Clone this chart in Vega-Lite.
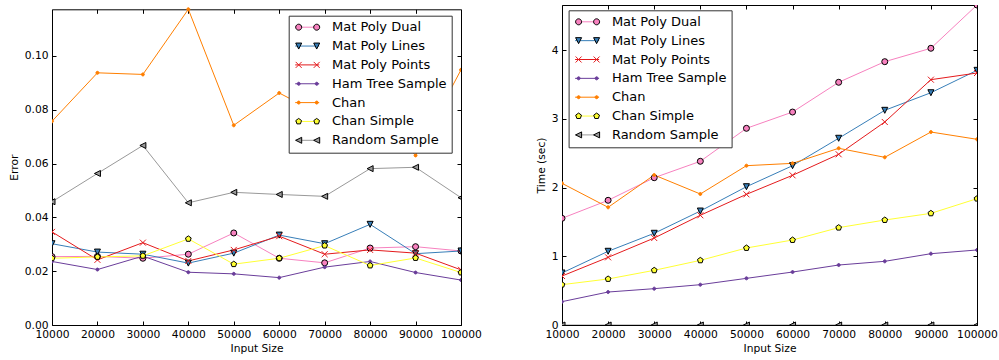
{
  "$schema": "https://vega.github.io/schema/vega-lite/v6.json",
  "padding": {"left": 8, "top": 4, "right": 0, "bottom": 0},
  "spacing": 52,
  "datasets": {
    "error": [
      {"series": "Mat Poly Dual", "size": 10000, "value": 0.0254},
      {"series": "Mat Poly Dual", "size": 20000, "value": 0.0255},
      {"series": "Mat Poly Dual", "size": 30000, "value": 0.0248},
      {"series": "Mat Poly Dual", "size": 40000, "value": 0.0263},
      {"series": "Mat Poly Dual", "size": 50000, "value": 0.0342},
      {"series": "Mat Poly Dual", "size": 60000, "value": 0.0248},
      {"series": "Mat Poly Dual", "size": 70000, "value": 0.0231},
      {"series": "Mat Poly Dual", "size": 80000, "value": 0.0286},
      {"series": "Mat Poly Dual", "size": 90000, "value": 0.0291},
      {"series": "Mat Poly Dual", "size": 100000, "value": 0.0275},
      {"series": "Mat Poly Lines", "size": 10000, "value": 0.0302},
      {"series": "Mat Poly Lines", "size": 20000, "value": 0.0271},
      {"series": "Mat Poly Lines", "size": 30000, "value": 0.0263},
      {"series": "Mat Poly Lines", "size": 40000, "value": 0.0230},
      {"series": "Mat Poly Lines", "size": 50000, "value": 0.0267},
      {"series": "Mat Poly Lines", "size": 60000, "value": 0.0334},
      {"series": "Mat Poly Lines", "size": 70000, "value": 0.0302},
      {"series": "Mat Poly Lines", "size": 80000, "value": 0.0374},
      {"series": "Mat Poly Lines", "size": 90000, "value": 0.0265},
      {"series": "Mat Poly Lines", "size": 100000, "value": 0.0275},
      {"series": "Mat Poly Points", "size": 10000, "value": 0.0346},
      {"series": "Mat Poly Points", "size": 20000, "value": 0.0242},
      {"series": "Mat Poly Points", "size": 30000, "value": 0.0306},
      {"series": "Mat Poly Points", "size": 40000, "value": 0.0238},
      {"series": "Mat Poly Points", "size": 50000, "value": 0.0279},
      {"series": "Mat Poly Points", "size": 60000, "value": 0.0330},
      {"series": "Mat Poly Points", "size": 70000, "value": 0.0263},
      {"series": "Mat Poly Points", "size": 80000, "value": 0.0279},
      {"series": "Mat Poly Points", "size": 90000, "value": 0.0267},
      {"series": "Mat Poly Points", "size": 100000, "value": 0.0205},
      {"series": "Ham Tree Sample", "size": 10000, "value": 0.0236},
      {"series": "Ham Tree Sample", "size": 20000, "value": 0.0206},
      {"series": "Ham Tree Sample", "size": 30000, "value": 0.0256},
      {"series": "Ham Tree Sample", "size": 40000, "value": 0.0196},
      {"series": "Ham Tree Sample", "size": 50000, "value": 0.0190},
      {"series": "Ham Tree Sample", "size": 60000, "value": 0.0176},
      {"series": "Ham Tree Sample", "size": 70000, "value": 0.0215},
      {"series": "Ham Tree Sample", "size": 80000, "value": 0.0236},
      {"series": "Ham Tree Sample", "size": 90000, "value": 0.0195},
      {"series": "Ham Tree Sample", "size": 100000, "value": 0.0167},
      {"series": "Chan", "size": 10000, "value": 0.0757},
      {"series": "Chan", "size": 20000, "value": 0.0937},
      {"series": "Chan", "size": 30000, "value": 0.0931},
      {"series": "Chan", "size": 40000, "value": 0.1173},
      {"series": "Chan", "size": 50000, "value": 0.0742},
      {"series": "Chan", "size": 60000, "value": 0.0862},
      {"series": "Chan", "size": 70000, "value": 0.0774},
      {"series": "Chan", "size": 80000, "value": 0.0812},
      {"series": "Chan", "size": 90000, "value": 0.0630},
      {"series": "Chan", "size": 100000, "value": 0.0948},
      {"series": "Chan Simple", "size": 10000, "value": 0.0248},
      {"series": "Chan Simple", "size": 20000, "value": 0.0253},
      {"series": "Chan Simple", "size": 30000, "value": 0.0257},
      {"series": "Chan Simple", "size": 40000, "value": 0.0320},
      {"series": "Chan Simple", "size": 50000, "value": 0.0226},
      {"series": "Chan Simple", "size": 60000, "value": 0.0248},
      {"series": "Chan Simple", "size": 70000, "value": 0.0295},
      {"series": "Chan Simple", "size": 80000, "value": 0.0221},
      {"series": "Chan Simple", "size": 90000, "value": 0.0249},
      {"series": "Chan Simple", "size": 100000, "value": 0.0195},
      {"series": "Random Sample", "size": 10000, "value": 0.0458},
      {"series": "Random Sample", "size": 20000, "value": 0.0563},
      {"series": "Random Sample", "size": 30000, "value": 0.0667},
      {"series": "Random Sample", "size": 40000, "value": 0.0454},
      {"series": "Random Sample", "size": 50000, "value": 0.0493},
      {"series": "Random Sample", "size": 60000, "value": 0.0485},
      {"series": "Random Sample", "size": 70000, "value": 0.0478},
      {"series": "Random Sample", "size": 80000, "value": 0.0581},
      {"series": "Random Sample", "size": 90000, "value": 0.0586},
      {"series": "Random Sample", "size": 100000, "value": 0.0473}
    ],
    "time": [
      {"series": "Mat Poly Dual", "size": 10000, "value": 1.553},
      {"series": "Mat Poly Dual", "size": 20000, "value": 1.815},
      {"series": "Mat Poly Dual", "size": 30000, "value": 2.144},
      {"series": "Mat Poly Dual", "size": 40000, "value": 2.383},
      {"series": "Mat Poly Dual", "size": 50000, "value": 2.863},
      {"series": "Mat Poly Dual", "size": 60000, "value": 3.100},
      {"series": "Mat Poly Dual", "size": 70000, "value": 3.533},
      {"series": "Mat Poly Dual", "size": 80000, "value": 3.833},
      {"series": "Mat Poly Dual", "size": 90000, "value": 4.028},
      {"series": "Mat Poly Dual", "size": 100000, "value": 4.658},
      {"series": "Mat Poly Lines", "size": 10000, "value": 0.757},
      {"series": "Mat Poly Lines", "size": 20000, "value": 1.073},
      {"series": "Mat Poly Lines", "size": 30000, "value": 1.335},
      {"series": "Mat Poly Lines", "size": 40000, "value": 1.659},
      {"series": "Mat Poly Lines", "size": 50000, "value": 2.013},
      {"series": "Mat Poly Lines", "size": 60000, "value": 2.319},
      {"series": "Mat Poly Lines", "size": 70000, "value": 2.718},
      {"series": "Mat Poly Lines", "size": 80000, "value": 3.125},
      {"series": "Mat Poly Lines", "size": 90000, "value": 3.381},
      {"series": "Mat Poly Lines", "size": 100000, "value": 3.707},
      {"series": "Mat Poly Points", "size": 10000, "value": 0.713},
      {"series": "Mat Poly Points", "size": 20000, "value": 0.985},
      {"series": "Mat Poly Points", "size": 30000, "value": 1.266},
      {"series": "Mat Poly Points", "size": 40000, "value": 1.597},
      {"series": "Mat Poly Points", "size": 50000, "value": 1.902},
      {"series": "Mat Poly Points", "size": 60000, "value": 2.179},
      {"series": "Mat Poly Points", "size": 70000, "value": 2.485},
      {"series": "Mat Poly Points", "size": 80000, "value": 2.955},
      {"series": "Mat Poly Points", "size": 90000, "value": 3.571},
      {"series": "Mat Poly Points", "size": 100000, "value": 3.668},
      {"series": "Ham Tree Sample", "size": 10000, "value": 0.340},
      {"series": "Ham Tree Sample", "size": 20000, "value": 0.480},
      {"series": "Ham Tree Sample", "size": 30000, "value": 0.529},
      {"series": "Ham Tree Sample", "size": 40000, "value": 0.587},
      {"series": "Ham Tree Sample", "size": 50000, "value": 0.679},
      {"series": "Ham Tree Sample", "size": 60000, "value": 0.771},
      {"series": "Ham Tree Sample", "size": 70000, "value": 0.873},
      {"series": "Ham Tree Sample", "size": 80000, "value": 0.927},
      {"series": "Ham Tree Sample", "size": 90000, "value": 1.038},
      {"series": "Ham Tree Sample", "size": 100000, "value": 1.092},
      {"series": "Chan", "size": 10000, "value": 2.062},
      {"series": "Chan", "size": 20000, "value": 1.713},
      {"series": "Chan", "size": 30000, "value": 2.183},
      {"series": "Chan", "size": 40000, "value": 1.907},
      {"series": "Chan", "size": 50000, "value": 2.319},
      {"series": "Chan", "size": 60000, "value": 2.353},
      {"series": "Chan", "size": 70000, "value": 2.572},
      {"series": "Chan", "size": 80000, "value": 2.441},
      {"series": "Chan", "size": 90000, "value": 2.809},
      {"series": "Chan", "size": 100000, "value": 2.703},
      {"series": "Chan Simple", "size": 10000, "value": 0.587},
      {"series": "Chan Simple", "size": 20000, "value": 0.670},
      {"series": "Chan Simple", "size": 30000, "value": 0.796},
      {"series": "Chan Simple", "size": 40000, "value": 0.941},
      {"series": "Chan Simple", "size": 50000, "value": 1.121},
      {"series": "Chan Simple", "size": 60000, "value": 1.237},
      {"series": "Chan Simple", "size": 70000, "value": 1.417},
      {"series": "Chan Simple", "size": 80000, "value": 1.528},
      {"series": "Chan Simple", "size": 90000, "value": 1.625},
      {"series": "Chan Simple", "size": 100000, "value": 1.839},
      {"series": "Random Sample", "size": 10000, "value": 0},
      {"series": "Random Sample", "size": 20000, "value": 0},
      {"series": "Random Sample", "size": 30000, "value": 0},
      {"series": "Random Sample", "size": 40000, "value": 0},
      {"series": "Random Sample", "size": 50000, "value": 0},
      {"series": "Random Sample", "size": 60000, "value": 0},
      {"series": "Random Sample", "size": 70000, "value": 0},
      {"series": "Random Sample", "size": 80000, "value": 0},
      {"series": "Random Sample", "size": 90000, "value": 0},
      {"series": "Random Sample", "size": 100000, "value": 0}
    ]
  },
  "resolve": {
    "scale": {"color": "independent", "fill": "independent", "stroke": "independent", "shape": "independent"},
    "legend": {"color": "independent", "fill": "independent", "stroke": "independent", "shape": "independent"}
  },
  "hconcat": [
    {
      "width": 409,
      "height": 320,
      "view": {"stroke": null},
      "data": {"name": "error"},
      "resolve": {"scale": {"shape": "independent", "fill": "independent", "stroke": "independent"}},
      "layer": [
        {
          "mark": {"type": "line", "strokeWidth": 1, "clip": true},
          "encoding": {
            "x": {"field": "size", "type": "quantitative", "scale": {"domain": [10000, 100000], "nice": false, "zero": false},
              "axis": {"orient": "bottom", "domain": true, "domainColor": "black", "domainWidth": 1, "values": [10000, 20000, 30000, 40000, 50000, 60000, 70000, 80000, 90000, 100000], "format": "d", "title": "Input Size"}},
            "y": {"field": "value", "type": "quantitative", "scale": {"domain": [0, 0.1173], "range": [320, 4.3], "nice": false, "zero": false},
              "axis": {"orient": "left", "domain": true, "domainColor": "black", "domainWidth": 1, "values": [0, 0.02, 0.04, 0.06, 0.08, 0.1], "format": ".2f", "title": "Error"}},
            "color": {"field": "series", "type": "nominal",
              "scale": {"domain": ["Mat Poly Dual", "Mat Poly Lines", "Mat Poly Points", "Ham Tree Sample", "Chan", "Chan Simple", "Random Sample"],
                "range": ["#f781bf", "#377eb8", "#e41a1c", "#6a3d9a", "#ff7f00", "#ffff33", "#999999"]},
              "legend": {"orient": "none", "legendX": 236.7, "legendY": 10.7, "title": null, "zindex": 1,
                "symbolType": "M-0.833,0L3.167,0", "fillColor": "white", "strokeColor": "#333333"}}
          }
        },
        {
          "mark": {"type": "point", "size": 36, "opacity": 1, "strokeWidth": 1, "filled": true, "clip": true},
          "encoding": {
            "x": {"field": "size", "type": "quantitative",
              "axis": {"orient": "top", "offset": -4.3, "domain": true, "domainColor": "black", "domainWidth": 1, "values": [10000, 20000, 30000, 40000, 50000, 60000, 70000, 80000, 90000, 100000], "labels": false, "title": null}},
            "y": {"field": "value", "type": "quantitative",
              "axis": {"orient": "right", "domain": true, "domainColor": "black", "domainWidth": 1, "values": [0, 0.02, 0.04, 0.06, 0.08, 0.1], "labels": false, "title": null}},
            "shape": {"field": "series", "type": "nominal",
              "scale": {"domain": ["Mat Poly Dual", "Mat Poly Lines", "Mat Poly Points", "Ham Tree Sample", "Chan", "Chan Simple", "Random Sample"],
                "range": ["circle", "M0,1L-1,-1L1,-1Z", "M-1,-1L1,1M-1,1L1,-1", "M-0.5,0A0.5,0.5 0 1,0 0.5,0A0.5,0.5 0 1,0 -0.5,0Z", "M-0.5,0A0.5,0.5 0 1,0 0.5,0A0.5,0.5 0 1,0 -0.5,0Z", "M0,-1L0.951,-0.309L0.588,0.809L-0.588,0.809L-0.951,-0.309Z", "M-1,0L1,-1L1,1Z"]},
              "legend": null},
            "fill": {"field": "series", "type": "nominal",
              "scale": {"domain": ["Mat Poly Dual", "Mat Poly Lines", "Mat Poly Points", "Ham Tree Sample", "Chan", "Chan Simple", "Random Sample"],
                "range": ["#f781bf", "#377eb8", "transparent", "#6a3d9a", "#ff7f00", "#ffff33", "#999999"]},
              "legend": null},
            "stroke": {"field": "series", "type": "nominal",
              "scale": {"domain": ["Mat Poly Dual", "Mat Poly Lines", "Mat Poly Points", "Ham Tree Sample", "Chan", "Chan Simple", "Random Sample"],
                "range": ["#000000", "#000000", "#e41a1c", "#6a3d9a", "#ff7f00", "#000000", "#000000"]},
              "legend": null}
          }
        },
        {
          "transform": [{"filter": "false"}],
          "mark": {"type": "point", "size": 36, "opacity": 1, "strokeWidth": 1, "filled": true},
          "encoding": {
            "x": {"field": "size", "type": "quantitative", "axis": null},
            "y": {"field": "value", "type": "quantitative", "axis": null},
            "shape": {"field": "series", "type": "nominal",
              "scale": {"domain": ["Mat Poly Dual", "Mat Poly Lines", "Mat Poly Points", "Ham Tree Sample", "Chan", "Chan Simple", "Random Sample"],
                "range": ["M-0.75,0A0.5,0.5 0 1,0 0.25,0A0.5,0.5 0 1,0 -0.75,0ZM2.25,0A0.5,0.5 0 1,0 3.25,0A0.5,0.5 0 1,0 2.25,0Z", "M-0.25,0.5L-0.75,-0.5L0.25,-0.5ZM2.75,0.5L2.25,-0.5L3.25,-0.5Z", "M-0.75,-0.5L0.25,0.5M-0.75,0.5L0.25,-0.5M2.25,-0.5L3.25,0.5M2.25,0.5L3.25,-0.5", "M-0.5,0A0.25,0.25 0 1,0 0,0A0.25,0.25 0 1,0 -0.5,0ZM2.5,0A0.25,0.25 0 1,0 3,0A0.25,0.25 0 1,0 2.5,0Z", "M-0.5,0A0.25,0.25 0 1,0 0,0A0.25,0.25 0 1,0 -0.5,0ZM2.5,0A0.25,0.25 0 1,0 3,0A0.25,0.25 0 1,0 2.5,0Z", "M-0.25,-0.5L0.226,-0.155L0.044,0.405L-0.544,0.405L-0.726,-0.155ZM2.75,-0.5L3.226,-0.155L3.044,0.405L2.456,0.405L2.274,-0.155Z", "M-0.75,0L0.25,-0.5L0.25,0.5ZM2.25,0L3.25,-0.5L3.25,0.5Z"]},
              "legend": {"orient": "none", "legendX": 236.7, "legendY": 10.7, "title": null, "zindex": 2, "labelOpacity": 0, "fillColor": null, "strokeColor": null}},
            "fill": {"field": "series", "type": "nominal",
              "scale": {"domain": ["Mat Poly Dual", "Mat Poly Lines", "Mat Poly Points", "Ham Tree Sample", "Chan", "Chan Simple", "Random Sample"],
                "range": ["#f781bf", "#377eb8", "transparent", "#6a3d9a", "#ff7f00", "#ffff33", "#999999"]},
              "legend": {"orient": "none", "legendX": 236.7, "legendY": 10.7, "title": null, "zindex": 2, "labelOpacity": 0, "fillColor": null, "strokeColor": null}},
            "stroke": {"field": "series", "type": "nominal",
              "scale": {"domain": ["Mat Poly Dual", "Mat Poly Lines", "Mat Poly Points", "Ham Tree Sample", "Chan", "Chan Simple", "Random Sample"],
                "range": ["#000000", "#000000", "#e41a1c", "#6a3d9a", "#ff7f00", "#000000", "#000000"]},
              "legend": {"orient": "none", "legendX": 236.7, "legendY": 10.7, "title": null, "zindex": 2, "labelOpacity": 0, "fillColor": null, "strokeColor": null}}
          }
        }
      ]
    },
    {
      "width": 415,
      "height": 320,
      "data": {"name": "time"},
      "resolve": {"scale": {"shape": "independent", "fill": "independent", "stroke": "independent"}},
      "layer": [
        {
          "mark": {"type": "line", "strokeWidth": 1, "clip": true},
          "encoding": {
            "x": {"field": "size", "type": "quantitative", "scale": {"domain": [10000, 100000], "nice": false, "zero": false},
              "axis": {"orient": "bottom", "values": [10000, 20000, 30000, 40000, 50000, 60000, 70000, 80000, 90000, 100000], "format": "d", "title": "Input Size"}},
            "y": {"field": "value", "type": "quantitative", "scale": {"domain": [0, 4.658], "nice": false, "zero": false},
              "axis": {"orient": "left", "values": [0, 1, 2, 3, 4], "format": "d", "title": "Time (sec)"}},
            "color": {"field": "series", "type": "nominal",
              "scale": {"domain": ["Mat Poly Dual", "Mat Poly Lines", "Mat Poly Points", "Ham Tree Sample", "Chan", "Chan Simple", "Random Sample"],
                "range": ["#f781bf", "#377eb8", "#e41a1c", "#6a3d9a", "#ff7f00", "#ffff33", "#999999"]},
              "legend": {"orient": "none", "legendX": 6.6, "legendY": 5.3, "title": null, "zindex": 1,
                "symbolType": "M-0.833,0L3.167,0", "fillColor": "white", "strokeColor": "#333333"}}
          }
        },
        {
          "mark": {"type": "point", "size": 36, "opacity": 1, "strokeWidth": 1, "filled": true, "clip": true},
          "encoding": {
            "x": {"field": "size", "type": "quantitative",
              "axis": {"orient": "top", "values": [10000, 20000, 30000, 40000, 50000, 60000, 70000, 80000, 90000, 100000], "labels": false, "title": null}},
            "y": {"field": "value", "type": "quantitative",
              "axis": {"orient": "right", "values": [0, 1, 2, 3, 4], "labels": false, "title": null}},
            "shape": {"field": "series", "type": "nominal",
              "scale": {"domain": ["Mat Poly Dual", "Mat Poly Lines", "Mat Poly Points", "Ham Tree Sample", "Chan", "Chan Simple", "Random Sample"],
                "range": ["circle", "M0,1L-1,-1L1,-1Z", "M-1,-1L1,1M-1,1L1,-1", "M-0.5,0A0.5,0.5 0 1,0 0.5,0A0.5,0.5 0 1,0 -0.5,0Z", "M-0.5,0A0.5,0.5 0 1,0 0.5,0A0.5,0.5 0 1,0 -0.5,0Z", "M0,-1L0.951,-0.309L0.588,0.809L-0.588,0.809L-0.951,-0.309Z", "M-1,0L1,-1L1,1Z"]},
              "legend": null},
            "fill": {"field": "series", "type": "nominal",
              "scale": {"domain": ["Mat Poly Dual", "Mat Poly Lines", "Mat Poly Points", "Ham Tree Sample", "Chan", "Chan Simple", "Random Sample"],
                "range": ["#f781bf", "#377eb8", "transparent", "#6a3d9a", "#ff7f00", "#ffff33", "#999999"]},
              "legend": null},
            "stroke": {"field": "series", "type": "nominal",
              "scale": {"domain": ["Mat Poly Dual", "Mat Poly Lines", "Mat Poly Points", "Ham Tree Sample", "Chan", "Chan Simple", "Random Sample"],
                "range": ["#000000", "#000000", "#e41a1c", "#6a3d9a", "#ff7f00", "#000000", "#000000"]},
              "legend": null}
          }
        },
        {
          "transform": [{"filter": "false"}],
          "mark": {"type": "point", "size": 36, "opacity": 1, "strokeWidth": 1, "filled": true},
          "encoding": {
            "x": {"field": "size", "type": "quantitative", "axis": null},
            "y": {"field": "value", "type": "quantitative", "axis": null},
            "shape": {"field": "series", "type": "nominal",
              "scale": {"domain": ["Mat Poly Dual", "Mat Poly Lines", "Mat Poly Points", "Ham Tree Sample", "Chan", "Chan Simple", "Random Sample"],
                "range": ["M-0.75,0A0.5,0.5 0 1,0 0.25,0A0.5,0.5 0 1,0 -0.75,0ZM2.25,0A0.5,0.5 0 1,0 3.25,0A0.5,0.5 0 1,0 2.25,0Z", "M-0.25,0.5L-0.75,-0.5L0.25,-0.5ZM2.75,0.5L2.25,-0.5L3.25,-0.5Z", "M-0.75,-0.5L0.25,0.5M-0.75,0.5L0.25,-0.5M2.25,-0.5L3.25,0.5M2.25,0.5L3.25,-0.5", "M-0.5,0A0.25,0.25 0 1,0 0,0A0.25,0.25 0 1,0 -0.5,0ZM2.5,0A0.25,0.25 0 1,0 3,0A0.25,0.25 0 1,0 2.5,0Z", "M-0.5,0A0.25,0.25 0 1,0 0,0A0.25,0.25 0 1,0 -0.5,0ZM2.5,0A0.25,0.25 0 1,0 3,0A0.25,0.25 0 1,0 2.5,0Z", "M-0.25,-0.5L0.226,-0.155L0.044,0.405L-0.544,0.405L-0.726,-0.155ZM2.75,-0.5L3.226,-0.155L3.044,0.405L2.456,0.405L2.274,-0.155Z", "M-0.75,0L0.25,-0.5L0.25,0.5ZM2.25,0L3.25,-0.5L3.25,0.5Z"]},
              "legend": {"orient": "none", "legendX": 6.6, "legendY": 5.3, "title": null, "zindex": 2, "labelOpacity": 0, "fillColor": null, "strokeColor": null}},
            "fill": {"field": "series", "type": "nominal",
              "scale": {"domain": ["Mat Poly Dual", "Mat Poly Lines", "Mat Poly Points", "Ham Tree Sample", "Chan", "Chan Simple", "Random Sample"],
                "range": ["#f781bf", "#377eb8", "transparent", "#6a3d9a", "#ff7f00", "#ffff33", "#999999"]},
              "legend": {"orient": "none", "legendX": 6.6, "legendY": 5.3, "title": null, "zindex": 2, "labelOpacity": 0, "fillColor": null, "strokeColor": null}},
            "stroke": {"field": "series", "type": "nominal",
              "scale": {"domain": ["Mat Poly Dual", "Mat Poly Lines", "Mat Poly Points", "Ham Tree Sample", "Chan", "Chan Simple", "Random Sample"],
                "range": ["#000000", "#000000", "#e41a1c", "#6a3d9a", "#ff7f00", "#000000", "#000000"]},
              "legend": {"orient": "none", "legendX": 6.6, "legendY": 5.3, "title": null, "zindex": 2, "labelOpacity": 0, "fillColor": null, "strokeColor": null}}
          }
        }
      ]
    }
  ],
  "config": {
    "font": "DejaVu Sans",
    "view": {"stroke": "black", "strokeWidth": 1},
    "axis": {
      "labelFont": "DejaVu Sans", "labelFontSize": 10.7, "labelColor": "black",
      "titleFont": "DejaVu Sans", "titleFontSize": 10.7, "titleFontWeight": "normal", "titleColor": "black",
      "tickColor": "black", "tickSize": -4, "tickWidth": 1, "domain": false, "grid": false,
      "labelPadding": 8, "labelFlush": false, "labelOverlap": false, "titlePadding": 5
    },
    "legend": {
      "labelFont": "DejaVu Sans", "labelFontSize": 13, "labelColor": "black", "labelLimit": 0,
      "padding": 5, "rowPadding": 4.85, "labelOffset": 25.3, "symbolSize": 144, "symbolStrokeWidth": 1,
      "cornerRadius": 0, "strokeWidth": 1, "columns": 1, "symbolOpacity": 1
    }
  }
}
